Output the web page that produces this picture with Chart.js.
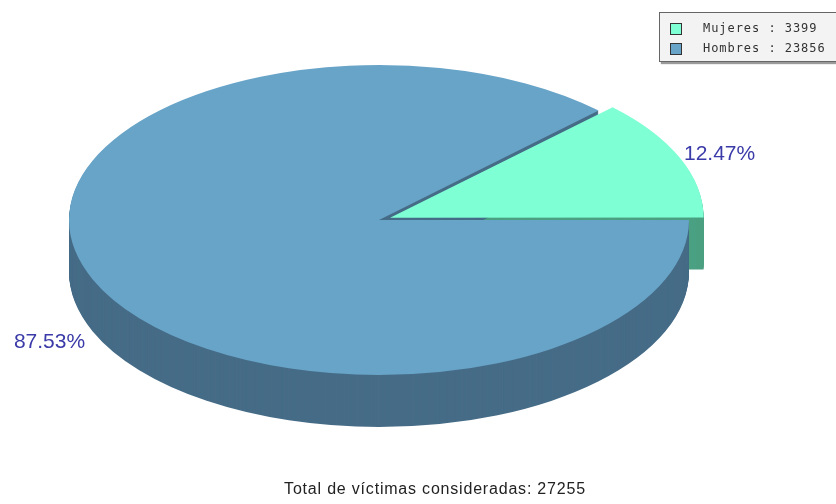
<!DOCTYPE html>
<html>
<head>
<meta charset="utf-8">
<script src="https://cdn.jsdelivr.net/npm/chart.js@4.4.1/dist/chart.umd.min.js"></script>
<style>
  body { margin: 0; background: #fff; }
  #wrap { position: relative; width: 836px; height: 504px; overflow: hidden; }
  #legend {
    position: absolute; left: 659px; top: 12px; width: 190px; height: 48px;
    background: #f3f3f3; border: 1px solid #666;
    box-shadow: 2px 2px 1px #9a9a9a;
    font-family: "DejaVu Sans Mono", monospace; font-size: 12px; letter-spacing: 0.95px; color: #333;
  }
  #legend .row { position: absolute; left: 10px; height: 14px; line-height: 14px; white-space: nowrap; }
  #legend .sw { display: inline-block; width: 12px; height: 12px; border: 1px solid #333; vertical-align: middle; margin-right: 21px; box-sizing: border-box; }
  #footer {
    position: absolute; left: 0; width: 870px; top: 480px; text-align: center;
    font-family: "Liberation Sans", Arial, sans-serif; font-size: 16px; letter-spacing: 0.8px; color: #222;
  }
</style>
</head>
<body>
<div id="wrap">
  <canvas id="pie3d" width="836" height="504"></canvas>
  <div id="legend"></div>
  <div id="footer"></div>
</div>
<script>
// datos del grafico
const labels = ['Mujeres', 'Hombres'];
const victimas = [3399, 23856];
const topColors = ['#7fffd4', '#68a4c8'];
const sideColors = ['#4ba082', '#466c87'];

const total = victimas.reduce((a, b) => a + b, 0);
const DEPTH = 52;      // grosor del "disco"
const SX = 2.0;        // aplanado: se estira en x

// leyenda y pie en html
document.getElementById('legend').innerHTML = labels.map((l, i) =>
  `<div class="row" style="top:${8 + i * 20}px"><span class="sw" style="background:${topColors[i]}"></span>${l} : ${victimas[i]}</div>`
).join('');
document.getElementById('footer').textContent = `Total de víctimas consideradas: ${total}`;

function withOpts(arc, extra, fn) {
  const saved = arc.options;
  arc.options = Object.assign({}, saved, extra);
  fn();
  arc.options = saved;
}

const pie3dPlugin = {
  id: 'pie3d',
  beforeDatasetsDraw(chart) {
    const ctx = chart.ctx;
    const meta = chart.getDatasetMeta(0);
    const cx = meta.data[0].x, cy = meta.data[0].y;
    ctx.save();
    ctx.translate(cx, cy);
    ctx.scale(SX, 1);
    ctx.translate(-cx, -cy);
    // lados, de atras hacia adelante
    meta.data.forEach((arc, i) => {
      for (let d = DEPTH; d > 0; d--) {
        ctx.save();
        ctx.translate(0, d);
        withOpts(arc, { backgroundColor: sideColors[i], borderColor: sideColors[i], borderWidth: 0 }, () => arc.draw(ctx));
        ctx.restore();
      }
    });
  },
  afterDatasetsDraw(chart) {
    const ctx = chart.ctx;
    ctx.restore();
    const meta = chart.getDatasetMeta(0);
    ctx.save();
    ctx.font = '21px "Liberation Sans", Arial, sans-serif';
    ctx.fillStyle = '#3a3aa8';
    ctx.textAlign = 'center';
    ctx.textBaseline = 'middle';
    meta.data.forEach((arc, i) => {
      const mid = (arc.startAngle + arc.endAngle) / 2;
      const r = arc.outerRadius * 1.15;
      const dx = Math.cos(mid) * (arc.options.offset || 0) / 4;
      const x = arc.x + (Math.cos(mid) * r + dx) * SX;
      let y = arc.y + Math.sin(mid) * r + 2;
      if (Math.sin(mid) > 0) y += DEPTH;
      ctx.fillText((victimas[i] / total * 100).toFixed(2) + '%', x, y);
    });
    ctx.restore();
  }
};

new Chart(document.getElementById('pie3d'), {
  type: 'pie',
  data: {
    labels: labels,
    datasets: [{
      data: victimas,
      backgroundColor: topColors,
      borderWidth: 0,
      offset: [24, 0],
      clip: false
    }]
  },
  options: {
    responsive: false,
    animation: false,
    radius: 155,
    rotation: 90 - 360 * victimas[0] / total,
    layout: { padding: { left: 224, right: 302, top: 65, bottom: 129 } },
    plugins: { legend: { display: false }, tooltip: { enabled: false } }
  },
  plugins: [pie3dPlugin]
});
</script>
</body>
</html>
